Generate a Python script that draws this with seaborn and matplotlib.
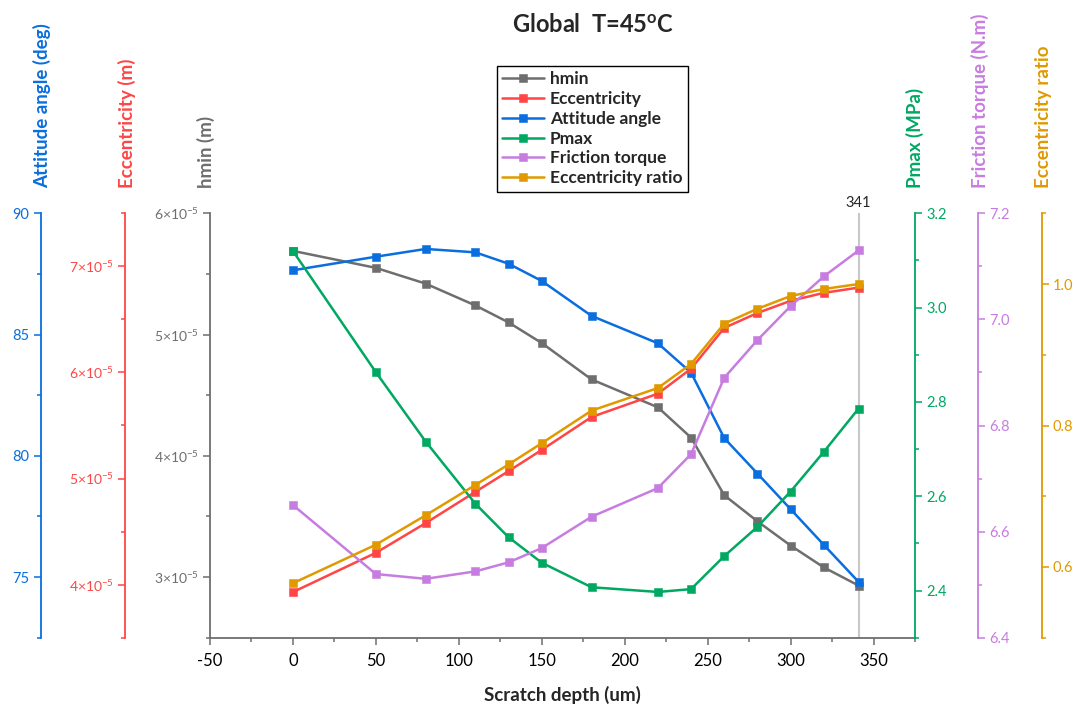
import matplotlib
matplotlib.use("Agg")
import pandas as pd
import matplotlib.pyplot as plt
import seaborn as sns
from matplotlib.ticker import MultipleLocator, FuncFormatter
import matplotlib.transforms as mtransforms

# values
depth = [0, 50, 80, 110, 130, 150, 180, 220, 240, 260, 280, 300, 320, 341]
hmin = [5.69e-5, 5.55e-5, 5.42e-5, 5.24e-5, 5.10e-5, 4.93e-5, 4.63e-5,
        4.40e-5, 4.15e-5, 3.675e-5, 3.46e-5, 3.26e-5, 3.08e-5, 2.93e-5]
eccentricity = [3.93e-5, 4.30e-5, 4.58e-5, 4.875e-5, 5.07e-5, 5.27e-5, 5.58e-5,
                5.80e-5, 6.035e-5, 6.42e-5, 6.56e-5, 6.675e-5, 6.75e-5, 6.80e-5]
attitude = [87.65, 88.21, 88.53, 88.39, 87.92, 87.21, 85.77,
            84.64, 83.43, 80.73, 79.27, 77.80, 76.33, 74.80]
pmax = [3.12, 2.863, 2.716, 2.584, 2.513, 2.459, 2.407,
        2.397, 2.403, 2.473, 2.535, 2.61, 2.694, 2.786]
friction = [6.65, 6.52, 6.511, 6.525, 6.542, 6.569, 6.628,
            6.682, 6.746, 6.89, 6.961, 7.025, 7.081, 7.13]
ecc_ratio = [0.577, 0.6315, 0.673, 0.716, 0.745, 0.775, 0.821,
             0.853, 0.887, 0.944, 0.965, 0.983, 0.993, 1.0]

df = pd.DataFrame({"depth": depth, "hmin": hmin, "eccentricity": eccentricity,
                   "attitude": attitude, "pmax": pmax, "friction": friction,
                   "ecc_ratio": ecc_ratio})

sns.set_style("ticks")
plt.rcParams["font.family"] = ["Lato", "DejaVu Sans"]
plt.rcParams["mathtext.fontset"] = "custom"
plt.rcParams["mathtext.rm"] = "Lato"
plt.rcParams["mathtext.it"] = "Lato:italic"
plt.rcParams["mathtext.bf"] = "Lato:bold"
plt.rcParams["axes.unicode_minus"] = False

W, H = 1084, 709
fig = plt.figure(figsize=(W / 100, H / 100), dpi=100)
ax = fig.add_axes([210 / W, 1 - 637.7 / H, 705 / W, 424.4 / H])

GREY = "#6E6E6E"
RED = "#FF4545"
BLUE = "#0A6EDE"
GREEN = "#00A862"
PURPLE = "#C77DE0"
ORANGE = "#E09A00"


def sci(v, pos):
    m = v / 1e-5
    return r"%d$\times$10$^{-5}$" % round(m)


def style_y(a, side, pos, color, lo, hi, major, minor, fmt=None):
    for s in a.spines.values():
        s.set_visible(False)
    sp = a.spines[side]
    sp.set_visible(True)
    sp.set_color(color)
    sp.set_linewidth(1.3)
    if pos is not None:
        sp.set_position(("axes", pos))
    a.yaxis.set_ticks_position(side)
    a.yaxis.set_label_position(side)
    a.set_ylim(lo, hi)
    a.yaxis.set_major_locator(MultipleLocator(major))
    a.yaxis.set_minor_locator(MultipleLocator(minor))
    if fmt is not None:
        a.yaxis.set_major_formatter(fmt)
    a.tick_params(axis="y", which="both", colors=color, direction="out",
                  labelsize=10.5, width=1.1)
    a.tick_params(axis="y", which="major", length=5, pad=3)
    a.tick_params(axis="y", which="minor", length=3)
    a.set_ylabel("")


ax_att = ax.twinx()
ax_ecc = ax.twinx()
ax_p = ax.twinx()
ax_f = ax.twinx()
ax_r = ax.twinx()

ax.axvline(341, color="#C8C8C8", lw=1.5, zorder=0)

series = [
    (ax, "hmin", "hmin", GREY),
    (ax_ecc, "eccentricity", "Eccentricity", RED),
    (ax_att, "attitude", "Attitude angle", BLUE),
    (ax_p, "pmax", "Pmax", GREEN),
    (ax_f, "friction", "Friction torque", PURPLE),
    (ax_r, "ecc_ratio", "Eccentricity ratio", ORANGE),
]
handles = []
for a, col, lab, c in series:
    sns.lineplot(data=df, x="depth", y=col, ax=a, color=c, marker="s",
                 markersize=5.5, markeredgecolor=c, markeredgewidth=0.4,
                 linewidth=1.8, legend=False)
    line = a.lines[-1]
    line.set_label(lab)
    handles.append(line)

# host axis: hmin (left) and x axis
style_y(ax, "left", None, GREY, 2.5e-5, 6e-5, 1e-5, 0.5e-5, FuncFormatter(sci))
ax.spines["bottom"].set_visible(True)
ax.spines["bottom"].set_color(GREY)
ax.spines["bottom"].set_linewidth(1.3)
ax.set_xlim(-50, 375)
ax.xaxis.set_major_locator(MultipleLocator(50))
ax.xaxis.set_minor_locator(MultipleLocator(25))
ax.tick_params(axis="x", which="both", direction="out", colors=GREY,
               labelcolor="black", labelsize=12, width=1.1)
ax.tick_params(axis="x", which="major", length=5, pad=6)
ax.tick_params(axis="x", which="minor", length=3)
ax.set_xlabel("Scratch depth (um)", fontsize=13.5, fontweight="bold", labelpad=12)

style_y(ax_att, "left", -0.2401, BLUE, 72.5, 90, 5, 2.5)
style_y(ax_ecc, "left", -0.1201, RED, 3.5e-5, 7.5e-5, 1e-5, 0.5e-5, FuncFormatter(sci))
style_y(ax_p, "right", 1.0, GREEN, 2.3, 3.2, 0.2, 0.1, FuncFormatter(lambda v, p: "%.1f" % v))
style_y(ax_f, "right", 1.0889, PURPLE, 6.4, 7.2, 0.2, 0.1, FuncFormatter(lambda v, p: "%.1f" % v))
style_y(ax_r, "right", 1.1797, ORANGE, 0.5, 1.1, 0.2, 0.1, FuncFormatter(lambda v, p: "%.1f" % v))
ax_ecc.tick_params(axis="y", labelsize=10)
ax.tick_params(axis="y", labelsize=10)

# axis titles sitting above each spine
ylabels = [(42, "Attitude angle (deg)", BLUE), (127, "Eccentricity (m)", RED),
           (206, "hmin (m)", GREY), (915, "Pmax (MPa)", GREEN),
           (980, "Friction torque (N.m)", PURPLE), (1043, "Eccentricity ratio", ORANGE)]
for xp, txt, c in ylabels:
    fig.text(xp / W, 1 - 188 / H, txt, rotation=90, ha="center", va="bottom",
             color=c, fontsize=13.5, fontweight="bold")

trans = mtransforms.blended_transform_factory(ax.transData, ax.transAxes)
ax.text(341, 1.008, "341", transform=trans, ha="center", va="bottom", fontsize=10.5)

fig.text(593 / W, 1 - 25 / H, r"Global  T=45$^{\mathbf{o}}$C", ha="center", va="center",
         fontsize=17, fontweight="bold")

leg = fig.legend(handles=handles, loc="upper left", bbox_to_anchor=(497 / W, 1 - 66 / H),
                 frameon=True, fancybox=False, edgecolor="black", framealpha=1,
                 prop={"weight": "bold", "size": 12.5}, handlelength=2.4,
                 borderaxespad=0, labelspacing=0.22, borderpad=0.3, handletextpad=0.35)
leg.get_frame().set_linewidth(1.0)

fig.savefig("out.png", dpi=100)
